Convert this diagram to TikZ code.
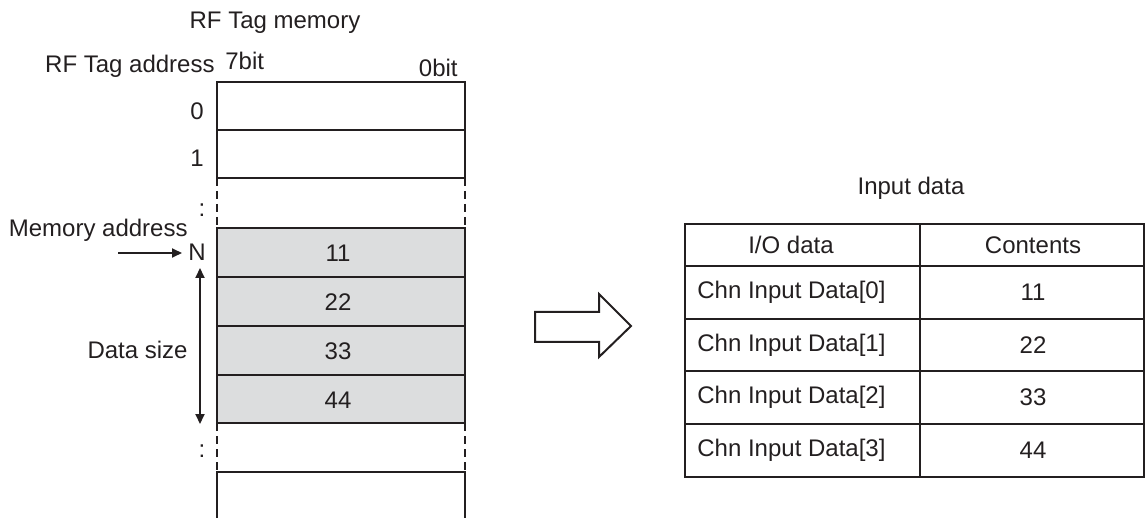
\documentclass[tikz,border=0pt]{standalone}
\usepackage{fontspec}
\setmainfont{Liberation Sans}
\usetikzlibrary{arrows.meta}
\definecolor{memgray}{RGB}{220,221,222}
\definecolor{ink}{RGB}{35,31,32}
\begin{document}
\begin{tikzpicture}[x=0.5pt,y=-0.5pt,
  font=\fontsize{12pt}{14pt}\selectfont,
  box/.style={line width=1.2pt, draw=ink},
  dashside/.style={line width=1.2pt, draw=ink, dash pattern=on 4pt off 2.5pt},
  tline/.style={line width=1.1pt, draw=ink},
  lbl/.style={inner sep=0pt, text=ink},
  tip/.style={-{Triangle[length=5pt,width=4.5pt]}},
  conn/.style={line width=1pt, draw=ink},
  hollow/.style={line width=1pt, draw=ink, line join=miter}]
\useasboundingbox (0,0) rectangle (1146,518);

% ---------- memory column ----------
\draw[box] (217,82) rectangle (465,130);
\draw[box] (217,130) rectangle (465,178);
\draw[dashside] (217,178) -- (217,228);
\draw[dashside] (465,178) -- (465,228);
\draw[box, fill=memgray] (217,228) rectangle (465,277);
\draw[box, fill=memgray] (217,277) rectangle (465,326);
\draw[box, fill=memgray] (217,326) rectangle (465,375);
\draw[box, fill=memgray] (217,375) rectangle (465,423);
\draw[dashside] (217,423) -- (217,472);
\draw[dashside] (465,423) -- (465,472);
\draw[box] (217,518) -- (217,472) -- (465,472) -- (465,518);

\node[lbl] (v11) at (338,253) {11};
\node[lbl] (v22) at (338,302) {22};
\node[lbl] (v33) at (338,351) {33};
\node[lbl] (v44) at (338,400) {44};

% ---------- labels ----------
\node[lbl, anchor=base] (title) at (275,29) {RF Tag memory};
\node[lbl, anchor=base east] (addr) at (215,73) {RF Tag address};
\node[lbl, anchor=base west] (b7) at (225,70) {7bit};
\node[lbl, anchor=base east] (b0) at (458,77) {0bit};
\node[lbl, anchor=east] (r0) at (204,111) {0};
\node[lbl, anchor=east] (r1) at (204,158) {1};
\node[lbl] (dots1) at (202,210) {:};
\node[lbl] (dots2) at (202,451) {:};
\node[lbl, anchor=base east] (memaddr) at (188,237) {Memory address};
\node[lbl, anchor=base west] (N) at (188,261) {N};
\node[lbl, anchor=base east] (dsize) at (188,358) {Data size};

\coordinate (mastart) at (118,253);
\draw[conn, tip, shorten >=3pt] (mastart) -- (mastart -| N.west);
\coordinate (dtop) at (200,268);
\coordinate (dbot) at (200,424);
\draw[conn, {Triangle[length=5pt,width=4.5pt]}-{Triangle[length=5pt,width=4.5pt]}] (dtop) -- (dbot);

% ---------- hollow arrow ----------
\draw[hollow] (535,312) -- (599,312) -- (599,294) -- (631,326) -- (599,357) -- (599,342) -- (535,342) -- cycle;

% ---------- table ----------
\node[lbl, anchor=base] (intitle) at (911,195) {Input data};
\draw[tline] (685,224) rectangle (1144,477);
\foreach \yy in {266,319,371,424} \draw[tline] (685,\yy) -- (1144,\yy);
\draw[tline] (920,224) -- (920,477);

\node[lbl] (h1) at (791,245) {I/O data};
\node[lbl] (h2) at (1033,245) {Contents};
\node[lbl, anchor=west] (c0) at (697,292.5) {Chn Input Data[0]};
\node[lbl, anchor=west] (c1) at (697,345) {Chn Input Data[1]};
\node[lbl, anchor=west] (c2) at (697,397.5) {Chn Input Data[2]};
\node[lbl, anchor=west] (c3) at (697,450.5) {Chn Input Data[3]};
\node[lbl] (d0) at (1033,292.5) {11};
\node[lbl] (d1) at (1033,345) {22};
\node[lbl] (d2) at (1033,397.5) {33};
\node[lbl] (d3) at (1033,450.5) {44};
\end{tikzpicture}
\end{document}
